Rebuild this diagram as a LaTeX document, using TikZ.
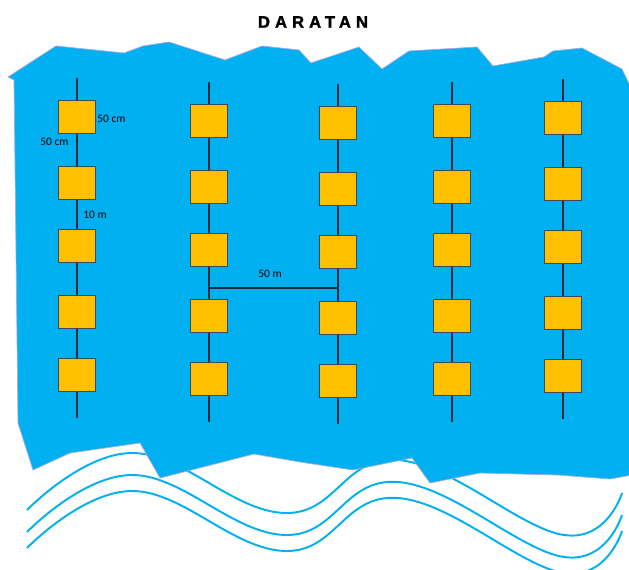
\documentclass[tikz,border=0pt]{standalone}
\usepackage{fontspec}
\setmainfont{Carlito}
\newfontfamily\titlefont[LetterSpace=30, BoldFeatures={FakeBold=1.6}]{Liberation Sans}
\usetikzlibrary{positioning}
\definecolor{seablue}{RGB}{0, 176, 240}
\definecolor{floatgold}{RGB}{255, 192, 0}
\definecolor{ropedark}{RGB}{25, 42, 62}
\definecolor{edgelilac}{RGB}{165, 170, 225}

\begin{document}
\begin{tikzpicture}[
  x = 0.02cm, y = -0.02cm,
  sea/.style    = {fill=seablue, draw=edgelilac, line width=0.4pt},
  wave/.style   = {draw=seablue, line width=1.1pt},
  float/.style  = {rectangle, draw=ropedark!85, fill=floatgold, line width=0.6pt,
                   minimum width=0.74cm, minimum height=0.66cm, inner sep=0pt},
  rope/.style   = {draw=ropedark, line width=0.8pt},
  dim/.style    = {font=\fontsize{6.5}{7}\selectfont, inner sep=0pt, text=black},
  heading/.style = {font=\titlefont\bfseries\fontsize{9.5}{11}\selectfont}
]
\clip (0,0) rectangle (629,570);

% waves
\foreach \dy in {0,22,38}
  \draw[wave, shift={(0,\dy)}] plot[smooth, tension=0.7] coordinates
    {(27,510) (133,453) (285,513) (398,460) (564,535) (622,493)};

% sea
\path[sea] (8,77) -- (56,46) -- (124,53) -- (143,46) -- (169,42) -- (225,60)
  -- (262,46) -- (299,50) -- (311,63) -- (359,47) -- (382,69) -- (409,51)
  -- (477,47) -- (493,66) -- (544,57) -- (553,51) -- (582,48) -- (622,69)
  -- (632,90) -- (632,475) -- (610,479) -- (558,475) -- (480,473) -- (430,483)
  -- (412,458) -- (353,470) -- (300,462) -- (254,454) -- (160,478) -- (140,443)
  -- (70,453) -- (33,470) -- (18,423) -- (14,80) -- cycle;

\node[heading] (title) at (313,22) {DARATAN};

% floats on ropes
\foreach \x/\y [count=\c] in {77/117, 209/121, 338/123, 452/121, 563/118} {
  \coordinate (t\c) at (\x,\y-39);
  \coordinate (e\c) at (\x,\y+301);
  \foreach \dy [count=\r] in {0,66,129,195,258}
    \node[float] (b\c-\r) at (\x,\y+\dy) {};
  \draw[rope] (t\c) -- (b\c-1) -- (b\c-2) -- (b\c-3) -- (b\c-4) -- (b\c-5) -- (e\c);
}

\coordinate (m2) at (209,288);
\coordinate (m3) at (338,288);
\draw[rope] (m2) -- (m3);

\node[dim, anchor=west] (w)  at (97,119)  {50 cm};
\node[dim, anchor=west] (h)  at (40,142)  {50 cm};
\node[dim, anchor=west] (d)  at (83,215)  {10 m};
\node[dim] (s) at (270,274) {50 m};

\end{tikzpicture}
\end{document}
